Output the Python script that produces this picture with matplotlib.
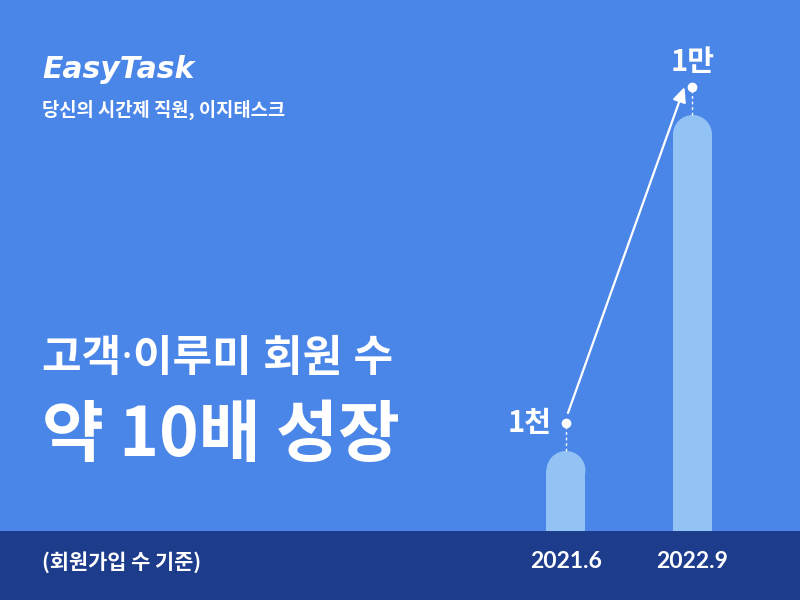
import matplotlib
matplotlib.use('Agg')
import matplotlib.pyplot as plt
from matplotlib.patches import Rectangle, Ellipse
import matplotlib.transforms as mtrans

# ---- data ----
periods = ['2021.6', '2022.9']
members = [1000, 10000]
value_labels = ['1천', '1만']
brand = 'EasyTask'
tagline = '당신의 시간제 직원, 이지태스크'
headline1 = '고객·이루미 회원 수'
headline2 = '약 10배 성장'
footnote = '(회원가입 수 기준)'

# ---- style ----
BG = '#4A86E8'
BAR = '#93C2F5'
BAND = '#1E3C8C'
KR = ['Noto Sans CJK KR', 'DejaVu Sans']
KR_NARROW = ['Noto Sans', 'Noto Sans CJK KR', 'DejaVu Sans']
W, H = 800, 600

fig = plt.figure(figsize=(8, 6), dpi=100)
fig.patch.set_facecolor(BG)
ax = fig.add_axes([0, 0, 1, 1])
ax.set_facecolor(BG)
ax.set_xlim(-4.474, 1.85)
ax.set_ylim(-2992, 13081)
ax.axis('off')

x = list(range(len(members)))
bar_w = 0.308
px_per_y = H / (ax.get_ylim()[1] - ax.get_ylim()[0])
r_y = (bar_w * W / (ax.get_xlim()[1] - ax.get_xlim()[0]) / 2) / px_per_y
ybot = ax.get_ylim()[0]

# bars with rounded tops
ax.bar(x, [v - r_y - ybot for v in members], bottom=ybot, width=bar_w,
       color=BAR, zorder=2, linewidth=0)
for xi, v in zip(x, members):
    ax.add_patch(Ellipse((xi, v - r_y), bar_w, 2 * r_y, color=BAR, zorder=2, linewidth=0))

# dots + dashed leaders
dot_off = 28 / px_per_y
dots = [v + dot_off for v in members]
for xi, v, d in zip(x, members, dots):
    ax.plot([xi, xi], [v, d], color='white', lw=1, ls=(0, (2, 2)), zorder=3)
    ax.plot([xi], [d], 'o', color='white', ms=6, zorder=4)

# arrow
tA = mtrans.offset_copy(ax.transData, fig=fig, x=2, y=10, units='dots')
tB = mtrans.offset_copy(ax.transData, fig=fig, x=-8, y=0, units='dots')
ax.annotate('', xy=(x[1], dots[1]), xycoords=tB,
            xytext=(x[0], dots[0]), textcoords=tA,
            arrowprops=dict(arrowstyle='-|>,head_length=0.55,head_width=0.25',
                            color='white', lw=1.6, mutation_scale=16,
                            shrinkA=0, shrinkB=0), zorder=4)

# value labels
ax.annotate(value_labels[0], xy=(x[0], dots[0]), xytext=(-14 * 0.72, 0),
            textcoords='offset points', ha='right', va='center',
            fontsize=21, fontweight='bold', color='white', family=KR, zorder=5)
ax.annotate(value_labels[1], xy=(x[1], dots[1]), xytext=(0, 25 * 0.72),
            textcoords='offset points', ha='center', va='center',
            fontsize=21, fontweight='bold', color='white', family=KR, zorder=5)

# bottom band
ax.add_patch(Rectangle((0, 0), 1, 69 / H, transform=ax.transAxes,
                       color=BAND, zorder=6, linewidth=0))

# period labels
tx = mtrans.blended_transform_factory(ax.transData, fig.transFigure)
for xi, p in zip(x, periods):
    ax.text(xi, 1 - 561 / H, p, transform=tx, ha='center', va='center',
            fontsize=16.5, fontweight='bold', color='white',
            family=['Lato', 'DejaVu Sans'], zorder=7)

# left texts
fig.text(42 / W, 1 - 69 / H, brand, ha='left', va='center', fontsize=21.5,
         fontweight='heavy', style='italic', color='white',
         family=['DejaVu Sans'])
fig.text(42 / W, 1 - 110 / H, tagline, ha='left', va='center', fontsize=13.5,
         fontweight='bold', color='white', family=KR)
fig.text(42 / W, 1 - 360 / H, headline1, ha='left', va='center', fontsize=31,
         fontweight='bold', color='white', family=KR_NARROW)
fig.text(42 / W, 1 - 437 / H, headline2, ha='left', va='center', fontsize=48.5,
         fontweight='bold', color='white', family=KR)
fig.text(42 / W, 1 - 562 / H, footnote, ha='left', va='center', fontsize=15,
         fontweight='bold', color='white', family=KR, zorder=8)

fig.savefig('out.png', dpi=100, facecolor=BG)
